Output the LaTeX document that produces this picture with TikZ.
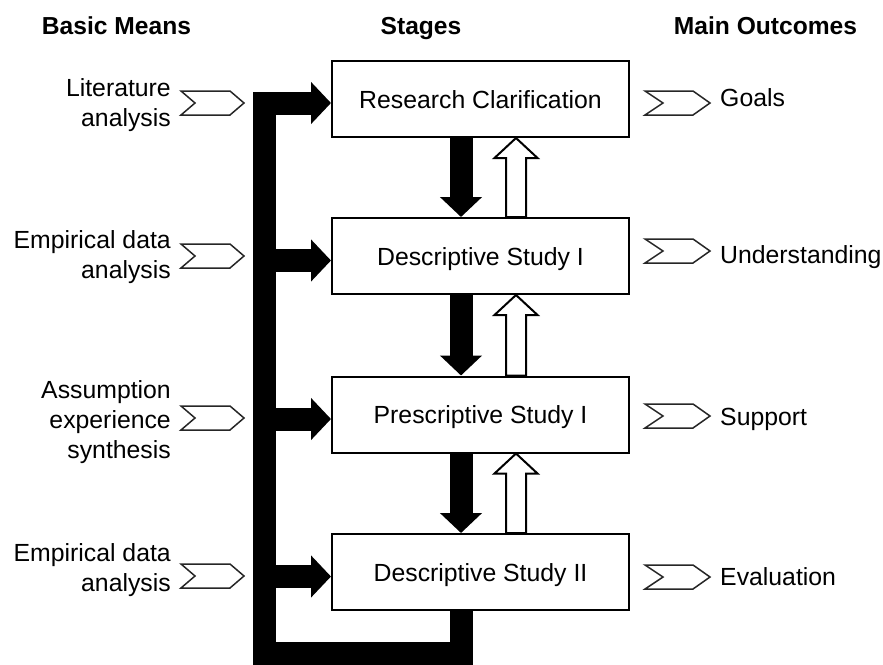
\documentclass[tikz,border=0pt]{standalone}
\usepackage{fontspec}
\setmainfont{Liberation Sans}
\usetikzlibrary{arrows.meta,calc}
\begin{document}
\begin{tikzpicture}[x=1pt,y=-1pt,
  lab/.style={font=\fontsize{24.8}{30}\selectfont, inner sep=0pt},
  headtxt/.style={font=\bfseries\fontsize{24.6}{30}\selectfont, inner sep=0pt, anchor=base},
  stage/.style={draw, line width=2pt, minimum width=297pt, minimum height=76pt, inner sep=0pt, text height=18pt, text depth=0pt, font=\fontsize{24.8}{30}\selectfont},
  fat/.style={line width=23pt, line join=miter, -{Triangle[width=41pt,length=20pt]}},
  chev/.style={draw=black!85, line width=1.5pt, fill=white, line join=miter},
  hollow/.style={draw, line width=2pt, fill=white, line join=miter},
  chevL/.pic={\draw[chev] (-31.5,-12) -- (17.5,-12) -- (31.5,0) -- (17.5,12) -- (-31.5,12) -- (-17.5,0) -- cycle;},
  chevR/.pic={\draw[chev] (-32.5,-12) -- (15.5,-12) -- (32.5,0) -- (15.5,12) -- (-32.5,12) -- (-14.5,0) -- cycle;}
]
\useasboundingbox (0,0) rectangle (883,664);

% headings
\node[headtxt] (h1) at (116.5,34) {Basic Means};
\node[headtxt] (h2) at (421,34) {Stages};
\node[headtxt] (h3) at (765.5,34) {Main Outcomes};

% stages
\node[stage] (b1) at (480.5,99) {Research Clarification};
\node[stage] (b2) at (480.5,256) {Descriptive Study I};
\node[stage] (b3) at (480.5,414.5) {Prescriptive Study I};
\node[stage] (b4) at (480.5,572) {Descriptive Study II};

% downward black arrows
\draw[fat] ($(b1.south)+(-19.5,0)$) -- ($(b2.north)+(-19.5,0)$);
\draw[fat] ($(b2.south)+(-19.5,0)$) -- ($(b3.north)+(-19.5,0)$);
\draw[fat] ($(b3.south)+(-19.5,0)$) -- ($(b4.north)+(-19.5,0)$);

% upward hollow arrows
\foreach \lo/\hi in {b2/b1,b3/b2,b4/b3}{
  \draw[hollow] ($(\lo.north)+(25.5,0)$) -- ($(\hi.south)+(25.5,20)$) -- ($(\hi.south)+(14,20)$)
    -- ($(\hi.south)+(35.5,0)$) -- ($(\hi.south)+(57,20)$) -- ($(\hi.south)+(45.5,20)$)
    -- ($(\lo.north)+(45.5,0)$) -- cycle;
}

% feedback bus
\coordinate (busb) at (264,653.5);
\coordinate (bust) at (264,103);
\draw[fat] ($(b4.south)+(-19,0)$) -- ($(b4.south)+(-19,42.5)$) -- (busb) -- (bust) -- ($(b1.west)+(0,4)$);
\draw[fat] (264,260.5) -- ($(b2.west)+(0,4.5)$);
\draw[fat] (264,419) -- ($(b3.west)+(0,4.5)$);
\draw[fat] (264,576.5) -- ($(b4.west)+(0,4.5)$);

% basic means
\node[lab, align=right, anchor=east] (m1) at (171,105.5) {Literature\\analysis};
\node[lab, align=right, anchor=east] (m2) at (171,257.5) {Empirical data\\analysis};
\node[lab, align=right, anchor=east] (m3) at (171,422.5) {Assumption\\experience\\synthesis};
\node[lab, align=right, anchor=east] (m4) at (171,570.5) {Empirical data\\analysis};
\pic at (212.5,103) {chevL};
\pic at (212.5,256) {chevL};
\pic at (212.5,418) {chevL};
\pic at (212.5,576) {chevL};

% outcomes
\pic at (677.5,103) {chevR};
\pic at (677.5,251) {chevR};
\pic at (677.5,416) {chevR};
\pic at (677.5,577) {chevR};
\node[lab, anchor=base west] (o1) at (720,106) {Goals};
\node[lab, anchor=base west] (o2) at (720,263) {Understanding};
\node[lab, anchor=base west] (o3) at (720,425) {Support};
\node[lab, anchor=base west] (o4) at (720,585) {Evaluation};
\end{tikzpicture}
\end{document}
